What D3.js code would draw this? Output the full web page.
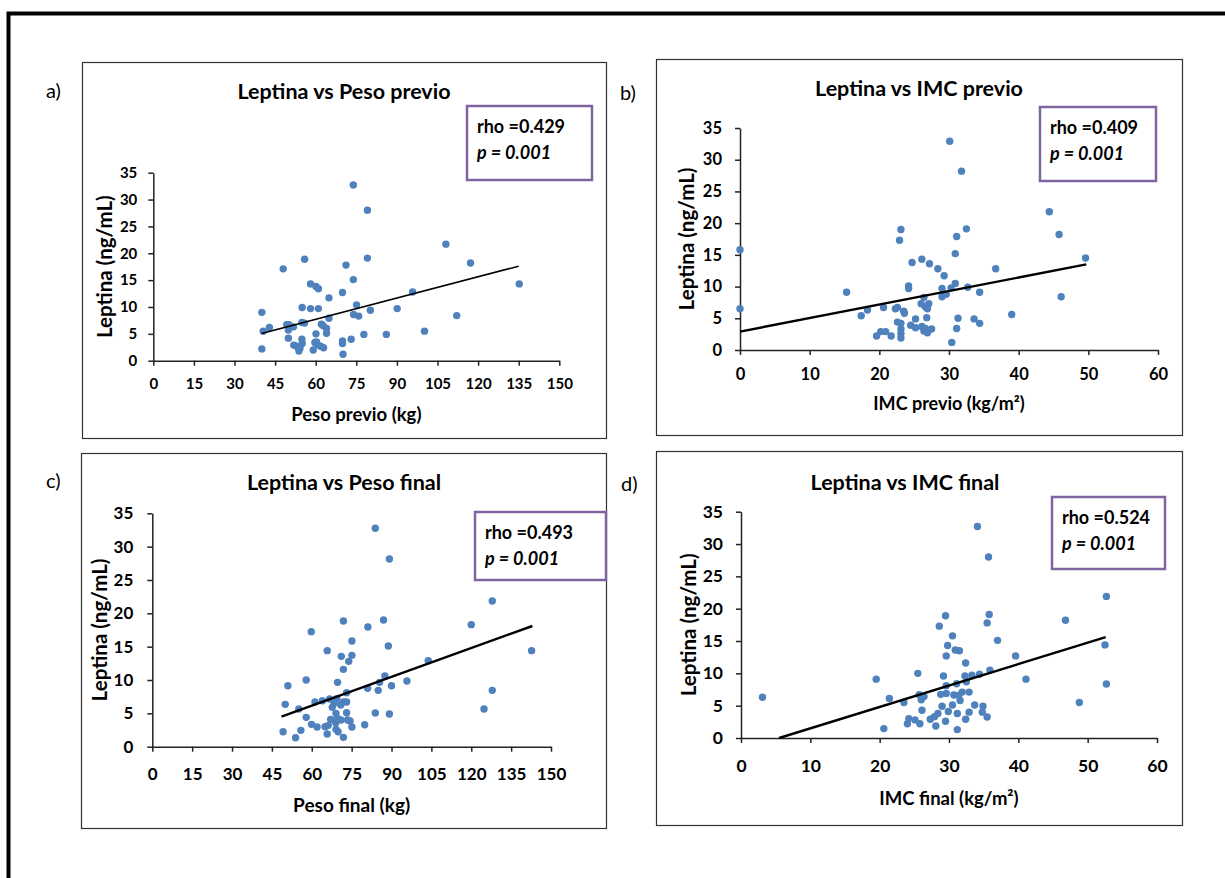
<!DOCTYPE html>
<html>
<head>
<meta charset="utf-8">
<script src="https://cdn.jsdelivr.net/npm/d3@7"></script>
<style>
  body { margin: 0; background: #fff; }
  svg { display: block; font-family: Lato, "Open Sans", sans-serif; }
</style>
</head>
<body>
<div class="chart"></div>
<script>
var width = 1225, height = 878;

// data: [x, leptina]
var pesoPrevio = [
  [73.9,32.7],[79.1,28.0],[108.1,21.7],[117.2,18.2],[79.1,19.1],[55.9,18.9],[48.0,17.1],
  [71.2,17.8],[73.9,15.1],[135.2,14.3],[58.1,14.3],[60.1,13.8],[61.0,13.4],[64.9,11.7],
  [69.9,12.7],[95.8,12.8],[55.0,9.9],[58.1,9.7],[61.0,9.7],[75.1,10.4],[90.1,9.7],
  [80.2,9.4],[40.1,9.0],[112.1,8.4],[74.0,8.6],[75.9,8.3],[64.9,7.9],[54.9,7.1],
  [55.9,7.0],[49.3,6.7],[50.1,6.7],[51.8,6.3],[62.1,6.8],[62.8,6.5],[64.0,6.0],
  [42.9,6.2],[40.6,5.5],[49.9,5.7],[60.1,5.0],[64.0,5.1],[77.8,4.9],[86.1,4.9],
  [100.2,5.5],[49.9,4.2],[54.9,4.0],[73.1,4.0],[69.9,3.7],[60.3,3.5],[55.0,3.2],
  [69.9,3.2],[51.9,2.9],[60.7,3.0],[61.8,2.7],[52.9,2.7],[54.2,2.3],[62.9,2.4],
  [40.1,2.2],[53.8,1.8],[59.1,2.0],[70.1,1.2],[59.7,3.4]
];
var imcPrevio = [
  [30.1,32.9],[31.8,28.2],[44.4,21.8],[45.8,18.2],[32.5,19.1],[23.1,19.0],[22.9,17.3],
  [31.1,17.9],[0,15.8],[30.9,15.2],[49.6,14.5],[26.1,14.3],[24.7,13.8],[27.2,13.6],
  [28.4,12.8],[36.7,12.8],[29.3,11.7],[24.2,10.1],[24.2,9.7],[30.9,10.5],[32.7,9.9],
  [29.0,9.7],[30.3,9.8],[15.3,9.1],[34.4,9.1],[29.0,8.4],[29.6,8.8],[46.1,8.4],
  [26.4,8.3],[26.0,7.3],[27.1,7.3],[26.6,6.8],[26.9,6.5],[0,6.5],[20.6,6.7],
  [22.3,6.5],[22.6,6.7],[18.3,6.3],[23.5,6.1],[23.6,5.8],[17.4,5.4],[39.0,5.6],
  [26.8,5.1],[31.3,5.0],[33.6,4.9],[25.2,4.9],[22.6,4.4],[23.1,4.2],[34.4,4.2],
  [24.5,3.9],[25.2,3.5],[26.1,3.7],[26.6,3.4],[27.5,3.3],[31.1,3.4],[23.1,3.3],
  [26.4,3.0],[26.9,2.7],[20.2,2.9],[20.9,2.9],[23.1,2.6],[19.6,2.2],[21.7,2.2],
  [23.1,1.9],[30.4,1.2]
];
var pesoFinal = [
  [83.9,32.75],[89.2,28.15],[127.9,21.85],[120.0,18.3],[87.0,19.0],[71.9,18.85],[81.1,17.95],
  [59.8,17.25],[75.1,15.85],[88.8,15.1],[142.7,14.4],[65.8,14.4],[71.1,13.55],[75.1,13.7],
  [73.9,12.8],[103.8,12.9],[71.9,11.6],[57.9,10.0],[69.7,9.65],[87.5,10.6],[95.8,9.85],
  [85.5,9.65],[51.0,9.15],[90.0,9.15],[81.0,8.75],[85.0,8.45],[127.9,8.45],[73.1,8.1],
  [66.7,7.15],[69.4,7.2],[71.9,6.7],[73.1,6.7],[61.2,6.7],[64.0,6.9],[68.4,6.5],
  [70.9,6.25],[50.0,6.35],[67.7,5.9],[55.1,5.65],[124.8,5.65],[69.1,5.0],[73.1,5.1],
  [83.9,5.05],[89.2,4.9],[57.9,4.4],[67.1,4.1],[69.7,4.25],[71.0,4.0],[73.5,4.0],
  [74.4,3.85],[69.0,3.6],[59.9,3.35],[79.9,3.3],[62.0,2.95],[65.0,3.0],[66.2,3.2],
  [75.1,2.95],[69.1,2.6],[55.9,2.45],[69.9,2.25],[49.2,2.25],[65.8,1.9],[53.9,1.35],
  [71.9,1.4]
];
var imcFinal = [
  [34.1,32.7],[35.7,28.0],[52.7,21.9],[46.8,18.2],[35.8,19.1],[35.5,17.8],[29.5,18.9],
  [28.6,17.3],[30.5,15.8],[37.0,15.1],[52.5,14.4],[29.8,14.3],[30.9,13.6],[31.5,13.5],
  [29.6,12.7],[39.6,12.7],[32.4,11.6],[25.5,10.0],[35.9,10.5],[34.4,9.85],[33.3,9.7],
  [32.3,9.6],[29.2,9.6],[19.5,9.1],[41.1,9.1],[32.5,8.7],[31.1,8.4],[29.6,8.1],
  [52.7,8.35],[32.9,7.1],[31.9,7.1],[29.6,6.9],[28.8,6.75],[30.7,6.65],[31.4,6.6],
  [25.7,6.7],[26.4,6.4],[21.4,6.1],[26.0,5.9],[31.6,5.8],[23.5,5.5],[48.8,5.5],
  [30.5,5.1],[33.7,5.1],[29.0,4.9],[34.9,4.9],[26.1,4.3],[29.9,4.1],[32.9,4.0],
  [34.8,4.0],[31.2,3.8],[28.4,3.8],[35.5,3.25],[27.9,3.3],[27.3,2.9],[24.2,3.0],
  [32.4,2.9],[25.1,2.8],[29.5,2.6],[24.0,2.2],[25.8,2.2],[28.1,1.85],[20.6,1.45],
  [31.2,1.3],[3.1,6.3]
];

// trend line end points
var trendPesoPrevio = [[40, 5.05], [135, 17.6]];
var trendImcPrevio = [[0, 2.9], [49.7, 13.5]];
var trendPesoFinal = [[48.6, 4.5], [143, 18.1]];
var trendImcFinal = [[5.5, 0], [52.6, 15.6]];

var rhoValues = ["0.429", "0.409", "0.493", "0.524"];
var pValues = ["0.001", "0.001", "0.001", "0.001"];
var yTicks = [0, 5, 10, 15, 20, 25, 30, 35];
var pesoTicks = d3.range(0, 151, 15);
var imcTicks = d3.range(0, 61, 10);

var panels = [
  { label: "a)", title: "Leptina vs Peso previo", xLabel: "Peso previo (kg)",
    points: pesoPrevio, trend: trendPesoPrevio, rho: rhoValues[0], p: pValues[0],
    xTicks: pesoTicks, box: [82, 62, 524, 376], labelXY: [46, 98], titleX: 344, titleY: 99,
    plot: { left: 153.3, right: 559.3, top: 172.7, bottom: 360.7 },
    tickFont: 15, xPad: 13, yPad: 11, xTitleY: 421, yTitleX: 105, axisFont: 18.5,
    rhoBox: [467, 106, 125, 74], trendW: 1.6 },
  { label: "b)", title: "Leptina vs IMC previo", xLabel: "IMC previo (kg/m\u00b2)",
    points: imcPrevio, trend: trendImcPrevio, rho: rhoValues[1], p: pValues[1],
    xTicks: imcTicks, box: [656, 59, 526, 376], labelXY: [620, 100], titleX: 919, titleY: 96,
    plot: { left: 740, right: 1158, top: 128, bottom: 350 },
    tickFont: 16.5, xPad: 13, yPad: 13, xTitleY: 410, yTitleX: 687, axisFont: 18,
    rhoBox: [1040, 107, 116, 74], trendW: 2.4 },
  { label: "c)", title: "Leptina vs Peso final", xLabel: "Peso final (kg)",
    points: pesoFinal, trend: trendPesoFinal, rho: rhoValues[2], p: pValues[2],
    xTicks: pesoTicks, box: [81, 453, 525, 375], labelXY: [46, 488], titleX: 344, titleY: 490,
    plot: { left: 152.3, right: 551, top: 513.3, bottom: 746.7 },
    tickFont: 17, xPad: 16, yPad: 14, xTitleY: 812, yTitleX: 100, axisFont: 19,
    rhoBox: [475, 512, 131, 68], trendW: 2.4 },
  { label: "d)", title: "Leptina vs IMC final", xLabel: "IMC final (kg/m\u00b2)",
    points: imcFinal, trend: trendImcFinal, rho: rhoValues[3], p: pValues[3],
    xTicks: imcTicks, box: [656, 451, 526, 374], labelXY: [621, 491], titleX: 905, titleY: 490,
    plot: { left: 741, right: 1157, top: 511.7, bottom: 738 },
    tickFont: 17.5, xPad: 17, yPad: 13, xTitleY: 805, yTitleX: 689, axisFont: 18.5,
    rhoBox: [1052, 497, 113, 72], trendW: 2.4 }
];

var svg = d3.select(".chart").append("svg")
  .attr("width", width)
  .attr("height", height);

// outer frame (runs off the page on the right and bottom)
svg.append("rect")
  .attr("x", 8.5).attr("y", 13.5)
  .attr("width", 1400).attr("height", 1000)
  .attr("fill", "none").attr("stroke", "#000").attr("stroke-width", 4);

function drawPanel(p) {
  var g = svg.append("g");

  g.append("rect")
    .attr("x", p.box[0] + 0.5).attr("y", p.box[1] + 0.5)
    .attr("width", p.box[2]).attr("height", p.box[3])
    .attr("fill", "#fff").attr("stroke", "#333").attr("stroke-width", 1.2);

  g.append("text")
    .attr("x", p.labelXY[0]).attr("y", p.labelXY[1])
    .style("font-size", "20px").style("fill", "#000")
    .text(p.label);

  g.append("text")
    .attr("x", p.titleX).attr("y", p.titleY)
    .attr("text-anchor", "middle")
    .style("font-size", "21.5px").style("font-weight", "bold")
    .text(p.title);

  var xMax = p.xTicks[p.xTicks.length - 1];
  var x = d3.scaleLinear().domain([0, xMax]).range([p.plot.left, p.plot.right]);
  var y = d3.scaleLinear().domain([0, 35]).range([p.plot.bottom, p.plot.top]);

  var xAxis = g.append("g")
    .attr("transform", "translate(0," + p.plot.bottom + ")")
    .call(d3.axisBottom(x).tickValues(p.xTicks).tickSize(5).tickSizeOuter(0).tickPadding(p.xPad));
  var yAxis = g.append("g")
    .attr("transform", "translate(" + p.plot.left + ",0)")
    .call(d3.axisLeft(y).tickValues(yTicks).tickSize(5).tickSizeOuter(0).tickPadding(p.yPad));

  [xAxis, yAxis].forEach(function (a) {
    a.selectAll("path, line").attr("stroke", "#222").attr("stroke-width", 1.5);
    a.selectAll("text")
      .style("font-family", "Lato, 'Open Sans', sans-serif")
      .style("font-size", p.tickFont + "px")
      .style("font-weight", "bold")
      .style("fill", "#000");
  });

  g.append("text")
    .attr("x", (p.plot.left + p.plot.right) / 2).attr("y", p.xTitleY)
    .attr("text-anchor", "middle")
    .style("font-size", p.axisFont + "px").style("font-weight", "bold")
    .text(p.xLabel);

  g.append("text")
    .attr("transform", "translate(" + p.yTitleX + "," + (p.plot.top + p.plot.bottom) / 2 + ") rotate(-90)")
    .attr("text-anchor", "middle")
    .attr("dy", "0.35em")
    .style("font-size", "20.5px").style("font-weight", "bold")
    .text("Leptina (ng/mL)");

  g.selectAll(".dot")
    .data(p.points)
    .enter()
    .append("circle")
    .attr("class", "dot")
    .attr("cx", function (d) { return x(d[0]); })
    .attr("cy", function (d) { return y(d[1]); })
    .attr("r", 3.7)
    .style("fill", "#4f81bd");

  g.append("path")
    .datum(p.trend)
    .attr("d", d3.line().x(function (d) { return x(d[0]); }).y(function (d) { return y(d[1]); }))
    .style("fill", "none")
    .style("stroke", "#000")
    .style("stroke-width", p.trendW);

  g.append("rect")
    .attr("x", p.rhoBox[0]).attr("y", p.rhoBox[1])
    .attr("width", p.rhoBox[2]).attr("height", p.rhoBox[3])
    .attr("fill", "#fff").attr("stroke", "#8064a2").attr("stroke-width", 2.5);

  g.append("text")
    .attr("x", p.rhoBox[0] + 10).attr("y", p.rhoBox[1] + 27)
    .style("font-size", "18px").style("font-weight", "bold")
    .text("rho =" + p.rho);

  g.append("text")
    .attr("x", p.rhoBox[0] + 10).attr("y", p.rhoBox[1] + 53)
    .style("font-size", "18px").style("font-weight", "bold").style("font-style", "italic")
    .text("p = " + p.p);
}

panels.forEach(drawPanel);
</script>
</body>
</html>
